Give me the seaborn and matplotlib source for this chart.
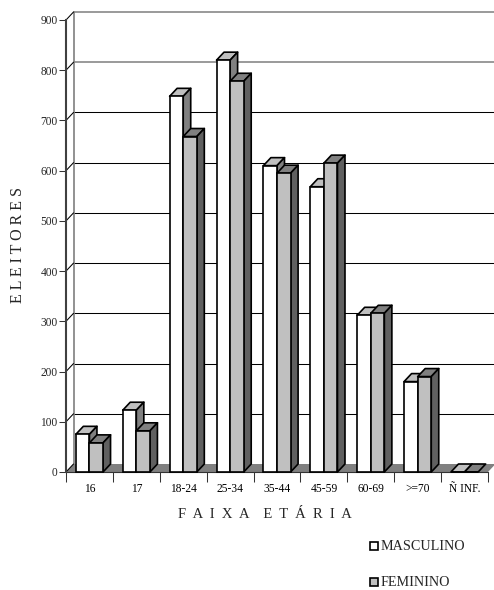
import pandas as pd
import matplotlib.pyplot as plt
import seaborn as sns
from matplotlib.patches import Polygon, Rectangle

#Datos
faixas = ["16", "17", "18-24", "25-34", "35-44", "45-59", "60-69", ">=70", "Ñ INF."]
masculino = [75, 123, 748, 820, 610, 568, 312, 180, 0]
feminino = [58, 82, 668, 778, 595, 615, 316, 190, 0]
yticks = [0, 100, 200, 300, 400, 500, 600, 700, 800, 900]

sns.set_theme(style="white")
plt.rcParams['font.family'] = ['Liberation Serif', 'DejaVu Serif']

df = pd.DataFrame({
    'faixa': faixas * 2,
    'eleitores': masculino + feminino,
    'sexo': ['MASCULINO'] * len(faixas) + ['FEMININO'] * len(faixas),
})

W, H = 494, 590
fig = plt.figure(figsize=(W / 100, H / 100), dpi=100)
ax = fig.add_axes([66 / W, (H - 472) / H, 422 / W, 452 / H])

sns.barplot(data=df, x='faixa', y='eleitores', hue='sexo', order=faixas,
            hue_order=['MASCULINO', 'FEMININO'],
            palette={'MASCULINO': '#ffffff', 'FEMININO': '#c0c0c0'},
            width=0.58, gap=0, edgecolor='black', linewidth=1.2, legend=False, ax=ax)
ax.set_xlim(-0.5, 8.5)
ax.set_ylim(0, 900)
ax.patch.set_alpha(0)

#Profundidad del efecto 3D en unidades de datos
dx = 7.5 / (422 / 9)
dy = 8 / (452 / 900)

#Pared del fondo y piso
for y in yticks[1:]:
    color = '#7f7f7f' if y >= 800 else 'black'
    lw = 1.1 if y >= 800 else 0.75
    ax.plot([-0.5 + dx, 8.5 + dx], [y + dy, y + dy], color=color, lw=lw, zorder=0.5, clip_on=False)
ax.plot([-0.5 + dx, -0.5 + dx], [dy, 900 + dy], color='#7f7f7f', lw=1.2, zorder=0.5, clip_on=False)
ax.add_patch(Polygon([(-0.5, 0), (8.5, 0), (8.5 + dx, dy), (-0.5 + dx, dy)],
                     closed=True, facecolor='#808080', edgecolor='none', zorder=1, clip_on=False))
for y in yticks:
    ax.plot([-0.5, -0.5 + dx], [y, y + dy], color='black', lw=0.75, zorder=1.5, clip_on=False)

#Caras superior y lateral de cada barra
colores = [('#c0c0c0', '#808080'), ('#808080', '#606060')]
n = len(faixas)
for s, group in enumerate(ax.containers):
    z = 2 + 2 * s
    for b in group:
        x0, x1, h = b.get_x(), b.get_x() + b.get_width(), b.get_height()
        b.set_zorder(z + 1)
        b.set_clip_on(False)
        ax.add_patch(Polygon([(x0, h), (x1, h), (x1 + dx, h + dy), (x0 + dx, h + dy)], closed=True,
                             facecolor=colores[s][0], edgecolor='black', lw=1.2, joinstyle='round',
                             zorder=z, clip_on=False))
        if h > 0:
            ax.add_patch(Polygon([(x1, 0), (x1 + dx, dy), (x1 + dx, h + dy), (x1, h)], closed=True,
                                 facecolor=colores[s][1], edgecolor='black', lw=1.2, joinstyle='round',
                                 zorder=z, clip_on=False))

#Ejes
sns.despine(ax=ax, top=True, right=True)
ax.spines['left'].set(color='#404040', linewidth=1.5, zorder=6)
ax.spines['bottom'].set(color='#333333', linewidth=0.8, zorder=1.2)
ax.set_yticks(yticks)
ax.set_xticks([i - 0.5 for i in range(n + 1)], minor=True)
ax.set_xticks(range(n))
ax.set_xticklabels(faixas)
ax.tick_params(axis='x', which='major', length=0, pad=8, labelsize=8.3, colors='black')
ax.tick_params(axis='x', which='minor', length=7, width=0.75, color='#333333', bottom=True)
ax.tick_params(axis='y', length=5, width=0.75, pad=1, labelsize=8.3, color='#333333', left=True)
ax.set_xlabel("")
ax.set_ylabel("")

fig.text(265 / W, 1 - 514 / H, "F  A  I  X  A    E  T  Á  R  I  A", ha='center', va='center', fontsize=10.5)
fig.text(18.5 / W, 1 - 245 / H, "E L E I T O R E S", ha='center', va='center', rotation=90, fontsize=11.5)

#Leyenda hecha a mano con las mismas caras
for nombre, color, py in [('MASCULINO', 'white', 546), ('FEMININO', '#c0c0c0', 582)]:
    fig.add_artist(Rectangle((370 / W, 1 - (py + 4) / H), 8 / W, 8 / H, transform=fig.transFigure,
                             facecolor=color, edgecolor='black', lw=1.2))
    fig.text(381 / W, 1 - py / H, nombre, ha='left', va='center', fontsize=10.2)

fig.savefig("out.png", dpi=100)
